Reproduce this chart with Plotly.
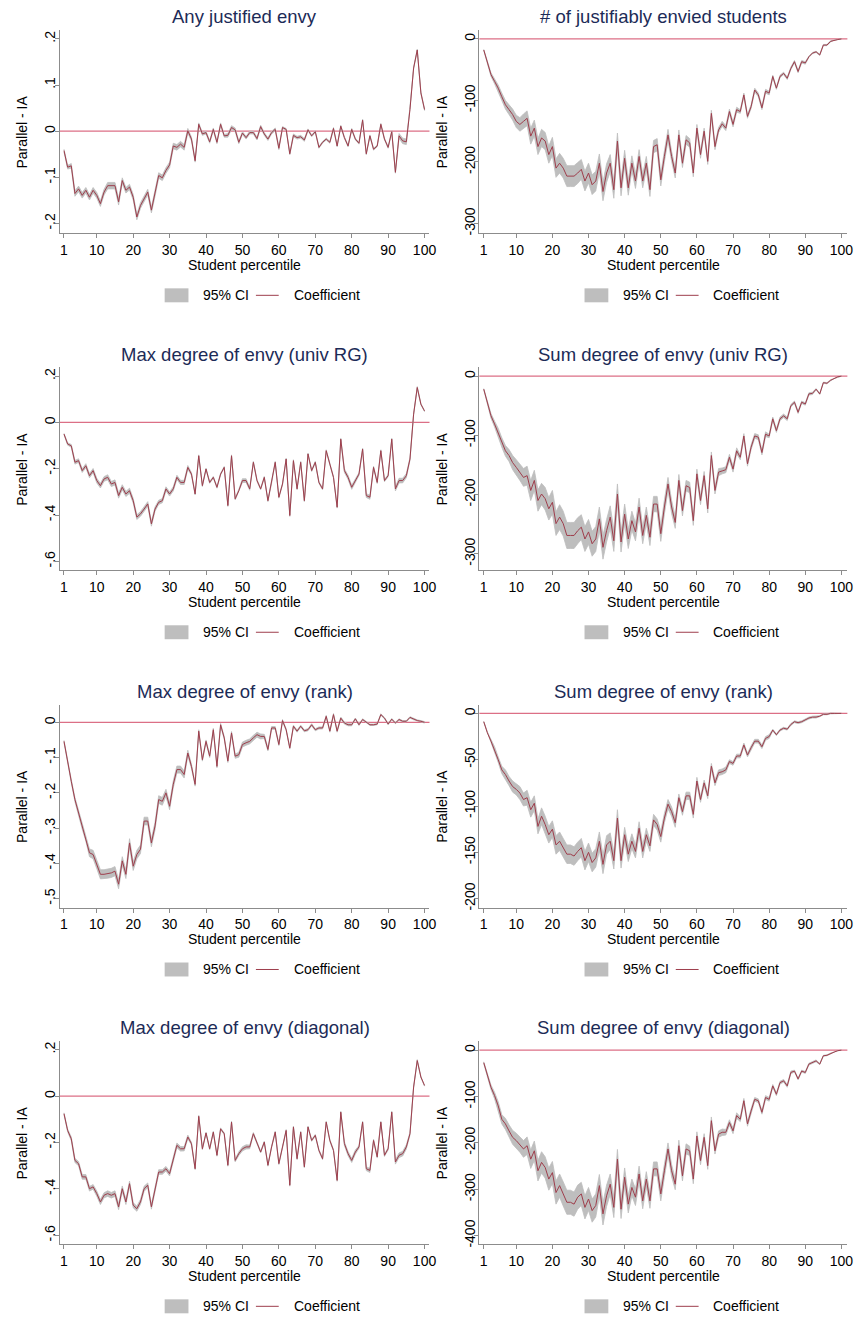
import plotly.graph_objects as go

# ---------------- data ----------------
percentile = list(range(1, 101))
x_tick_vals = [1, 10, 20, 30, 40, 50, 60, 70, 80, 90, 100]
x_tick_text = ["1", "10", "20", "30", "40", "50", "60", "70", "80", "90", "100"]

titles = [
    "Any justified envy",
    "# of justifiably envied students",
    "Max degree of envy (univ RG)",
    "Sum degree of envy (univ RG)",
    "Max degree of envy (rank)",
    "Sum degree of envy (rank)",
    "Max degree of envy (diagonal)",
    "Sum degree of envy (diagonal)",
]
y_axis_title = "Parallel - IA"
x_axis_title = "Student percentile"
legend_ci = "95% CI"
legend_coef = "Coefficient"

y_tick_vals_1 = [-0.2, -0.1, 0, 0.1, 0.2]
y_tick_text_1 = ["-.2", "-.1", "0", ".1", ".2"]
y_tick_vals_2 = [-300, -200, -100, 0]
y_tick_text_2 = ["-300", "-200", "-100", "0"]
y_tick_vals_3 = [-0.6, -0.4, -0.2, 0, 0.2]
y_tick_text_3 = ["-.6", "-.4", "-.2", "0", ".2"]
y_tick_vals_4 = [-300, -200, -100, 0]
y_tick_text_4 = ["-300", "-200", "-100", "0"]
y_tick_vals_5 = [-0.5, -0.4, -0.3, -0.2, -0.1, 0]
y_tick_text_5 = ["-.5", "-.4", "-.3", "-.2", "-.1", "0"]
y_tick_vals_6 = [-200, -150, -100, -50, 0]
y_tick_text_6 = ["-200", "-150", "-100", "-50", "0"]
y_tick_vals_7 = [-0.6, -0.4, -0.2, 0, 0.2]
y_tick_text_7 = ["-.6", "-.4", "-.2", "0", ".2"]
y_tick_vals_8 = [-400, -300, -200, -100, 0]
y_tick_text_8 = ["-400", "-300", "-200", "-100", "0"]

coef_1 = [-0.042, -0.078, -0.075, -0.135, -0.125, -0.139, -0.128, -0.143, -0.128, -0.139,
          -0.157, -0.132, -0.118, -0.118, -0.118, -0.153, -0.107, -0.128, -0.121, -0.143,
          -0.186, -0.161, -0.146, -0.132, -0.171, -0.135, -0.096, -0.101, -0.085, -0.073,
          -0.032, -0.035, -0.028, -0.035, 0.001, -0.017, -0.064, 0.015, -0.006, -0.003,
          -0.023, 0.004, -0.024, 0.015, -0.010, -0.009, 0.008, 0.003, -0.024, -0.004,
          -0.014, -0.003, -0.003, -0.016, 0.010, -0.006, -0.017, -0.003, 0.004, -0.037,
          0.008, 0.004, -0.049, -0.009, -0.014, -0.012, -0.019, 0.003, -0.010, -0.001,
          -0.035, -0.024, -0.017, -0.024, 0.006, -0.032, 0.011, -0.014, -0.032, 0.004,
          -0.017, -0.026, 0.024, -0.049, -0.010, -0.039, -0.032, 0.015, -0.017, -0.035,
          -0.001, -0.089, -0.010, -0.021, -0.023, 0.047, 0.137, 0.176, 0.083, 0.047]
hw_1 = [0.003, 0.004, 0.005, 0.006, 0.006, 0.006, 0.006, 0.006, 0.006, 0.006,
        0.006, 0.006, 0.007, 0.007, 0.007, 0.007, 0.006, 0.006, 0.006, 0.006,
        0.006, 0.006, 0.006, 0.006, 0.006, 0.006, 0.006, 0.006, 0.006, 0.006,
        0.006, 0.006, 0.006, 0.006, 0.005, 0.004, 0.003, 0.003, 0.003, 0.003,
        0.003, 0.003, 0.003, 0.003, 0.003, 0.004, 0.004, 0.004, 0.003, 0.003,
        0.003, 0.003, 0.003, 0.003, 0.003, 0.003, 0.003, 0.003, 0.003, 0.003,
        0.002, 0.002, 0.002, 0.003, 0.003, 0.003, 0.003, 0.002, 0.002, 0.002,
        0.002, 0.002, 0.002, 0.002, 0.002, 0.002, 0.002, 0.002, 0.002, 0.002,
        0.002, 0.002, 0.002, 0.002, 0.002, 0.002, 0.002, 0.002, 0.002, 0.002,
        0.002, 0.002, 0.005, 0.006, 0.006, 0.003, 0.002, 0.002, 0.002, 0.002]

coef_2 = [-18, -39, -58, -69, -80, -94, -107, -115, -123, -134,
          -139, -134, -129, -158, -145, -175, -161, -166, -188, -175,
          -210, -202, -210, -223, -223, -223, -218, -212, -231, -218,
          -237, -231, -202, -248, -218, -202, -245, -166, -242, -194,
          -242, -202, -231, -191, -231, -202, -245, -175, -172, -229,
          -191, -156, -191, -218, -156, -202, -164, -169, -218, -145,
          -188, -150, -199, -121, -175, -148, -138, -145, -118, -139,
          -115, -118, -91, -126, -110, -83, -91, -112, -85, -88,
          -61, -80, -61, -56, -64, -48, -37, -53, -37, -39,
          -29, -23, -21, -26, -10, -10, -4, -2, -1, 0]
hw_2 = [1, 2, 3, 4, 5, 6, 7, 8, 9, 10,
        11, 12, 12, 13, 13, 13, 14, 14, 14, 15,
        15, 16, 16, 17, 17, 17, 17, 16, 16, 16,
        16, 16, 15, 15, 15, 14, 14, 13, 13, 13,
        12, 12, 12, 11, 11, 11, 11, 10, 10, 10,
        9, 9, 8, 8, 8, 7, 7, 7, 6, 6,
        6, 5, 5, 5, 5, 4, 4, 4, 4, 4,
        4, 3, 3, 3, 3, 3, 3, 3, 3, 3,
        2, 2, 2, 2, 2, 2, 2, 2, 2, 2,
        1, 1, 1, 1, 1, 1, 1, 0, 0, 0]

coef_3 = [-0.050, -0.093, -0.101, -0.172, -0.165, -0.208, -0.187, -0.230, -0.208, -0.251,
          -0.273, -0.244, -0.237, -0.266, -0.259, -0.316, -0.280, -0.309, -0.295, -0.338,
          -0.409, -0.395, -0.374, -0.352, -0.438, -0.374, -0.345, -0.338, -0.287, -0.309,
          -0.287, -0.237, -0.259, -0.259, -0.194, -0.223, -0.309, -0.144, -0.273, -0.201,
          -0.259, -0.237, -0.280, -0.223, -0.194, -0.359, -0.144, -0.330, -0.295, -0.251,
          -0.251, -0.287, -0.172, -0.251, -0.287, -0.237, -0.338, -0.259, -0.172, -0.323,
          -0.266, -0.158, -0.402, -0.165, -0.287, -0.172, -0.338, -0.136, -0.208, -0.172,
          -0.259, -0.287, -0.122, -0.180, -0.237, -0.366, -0.072, -0.208, -0.237, -0.280,
          -0.251, -0.223, -0.115, -0.316, -0.323, -0.194, -0.259, -0.122, -0.251, -0.230,
          -0.072, -0.287, -0.251, -0.251, -0.230, -0.158, 0.036, 0.151, 0.079, 0.050]
hw_3 = [0.003, 0.005, 0.006, 0.008, 0.008, 0.008, 0.009, 0.009, 0.009, 0.010,
        0.010, 0.010, 0.011, 0.011, 0.011, 0.011, 0.011, 0.011, 0.011, 0.010,
        0.010, 0.010, 0.010, 0.010, 0.010, 0.009, 0.009, 0.009, 0.009, 0.009,
        0.009, 0.009, 0.009, 0.009, 0.008, 0.006, 0.004, 0.004, 0.004, 0.004,
        0.004, 0.004, 0.004, 0.004, 0.004, 0.004, 0.004, 0.005, 0.006, 0.008,
        0.008, 0.006, 0.004, 0.004, 0.004, 0.004, 0.004, 0.004, 0.004, 0.004,
        0.004, 0.004, 0.004, 0.004, 0.004, 0.004, 0.004, 0.004, 0.004, 0.004,
        0.004, 0.004, 0.004, 0.004, 0.004, 0.004, 0.004, 0.008, 0.009, 0.009,
        0.009, 0.006, 0.004, 0.008, 0.009, 0.005, 0.005, 0.004, 0.005, 0.005,
        0.004, 0.009, 0.010, 0.010, 0.009, 0.006, 0.004, 0.004, 0.003, 0.003]

coef_4 = [-22, -44, -67, -81, -95, -112, -126, -134, -146, -154,
          -162, -171, -168, -193, -176, -210, -199, -207, -224, -213,
          -249, -238, -249, -269, -269, -269, -261, -255, -275, -263,
          -283, -275, -241, -289, -261, -238, -278, -199, -280, -233,
          -275, -244, -263, -221, -269, -235, -272, -216, -216, -266,
          -221, -182, -221, -247, -176, -227, -185, -188, -244, -165,
          -210, -168, -224, -134, -193, -162, -160, -158, -137, -157,
          -126, -137, -101, -148, -120, -101, -103, -129, -98, -101,
          -72, -92, -72, -67, -72, -50, -44, -61, -44, -47,
          -30, -29, -22, -30, -11, -12, -7, -4, -1, 0]
hw_4 = [1, 2, 4, 5, 7, 8, 9, 10, 12, 13,
        14, 15, 16, 17, 17, 18, 18, 19, 19, 20,
        20, 21, 21, 22, 22, 22, 22, 21, 21, 21,
        21, 21, 20, 20, 19, 19, 18, 17, 17, 17,
        16, 16, 15, 15, 14, 14, 14, 13, 13, 13,
        12, 11, 11, 10, 10, 9, 9, 9, 8, 8,
        7, 7, 7, 6, 6, 6, 5, 5, 5, 5,
        5, 4, 4, 4, 4, 4, 4, 4, 4, 3,
        3, 3, 3, 3, 3, 2, 2, 2, 2, 2,
        2, 2, 1, 1, 1, 1, 1, 0, 0, 0]

coef_5 = [-0.054, -0.115, -0.167, -0.219, -0.257, -0.294, -0.327, -0.370, -0.375, -0.403,
          -0.431, -0.431, -0.429, -0.427, -0.422, -0.459, -0.393, -0.431, -0.342, -0.408,
          -0.375, -0.360, -0.280, -0.280, -0.342, -0.294, -0.219, -0.224, -0.200, -0.238,
          -0.176, -0.134, -0.134, -0.148, -0.087, -0.125, -0.176, -0.025, -0.106, -0.054,
          -0.096, -0.021, -0.125, -0.007, -0.044, -0.110, -0.030, -0.096, -0.092, -0.063,
          -0.058, -0.054, -0.044, -0.035, -0.040, -0.040, -0.077, -0.016, -0.016, -0.063,
          0.005, -0.021, -0.073, -0.011, -0.025, -0.011, -0.024, -0.021, -0.007, -0.021,
          -0.016, -0.016, 0.017, -0.025, 0.022, -0.025, 0.012, -0.002, -0.007, -0.007,
          0.010, -0.007, 0.008, 0.001, -0.007, -0.007, -0.005, 0.022, 0.012, -0.005,
          0.009, -0.002, 0.008, 0.003, 0.003, 0.014, 0.009, 0.005, 0.003, 0.000]
hw_5 = [0.003, 0.004, 0.005, 0.006, 0.008, 0.009, 0.010, 0.011, 0.012, 0.012,
        0.013, 0.013, 0.013, 0.013, 0.013, 0.013, 0.012, 0.012, 0.012, 0.012,
        0.012, 0.012, 0.011, 0.011, 0.011, 0.011, 0.011, 0.011, 0.010, 0.010,
        0.010, 0.010, 0.010, 0.010, 0.008, 0.006, 0.005, 0.004, 0.004, 0.004,
        0.004, 0.004, 0.004, 0.004, 0.004, 0.004, 0.004, 0.006, 0.007, 0.007,
        0.007, 0.007, 0.007, 0.007, 0.007, 0.006, 0.004, 0.004, 0.004, 0.003,
        0.003, 0.003, 0.003, 0.003, 0.003, 0.003, 0.003, 0.003, 0.003, 0.003,
        0.003, 0.003, 0.003, 0.003, 0.003, 0.003, 0.003, 0.003, 0.003, 0.003,
        0.002, 0.002, 0.002, 0.002, 0.002, 0.002, 0.002, 0.002, 0.002, 0.002,
        0.002, 0.002, 0.002, 0.002, 0.002, 0.002, 0.002, 0.002, 0.002, 0.002]

coef_6 = [-9, -21, -30, -39, -50, -61, -66, -73, -79, -82,
          -86, -93, -91, -104, -97, -122, -111, -120, -131, -125,
          -142, -138, -145, -152, -152, -154, -149, -145, -159, -150,
          -161, -156, -138, -163, -142, -138, -159, -113, -159, -131,
          -152, -138, -149, -124, -149, -131, -143, -115, -120, -133,
          -113, -98, -106, -118, -91, -106, -89, -89, -109, -73,
          -93, -75, -89, -57, -75, -64, -63, -61, -52, -54,
          -46, -46, -34, -45, -37, -30, -30, -36, -27, -25,
          -18, -23, -18, -16, -17, -12, -9, -10, -9, -7,
          -5, -4, -4, -3, -1, -1, 0, 0, 0, 0]
hw_6 = [0.5, 1, 2, 3, 3, 4, 5, 5, 6, 6,
        7, 7, 8, 8, 8, 8, 9, 9, 9, 9,
        10, 10, 10, 10, 10, 10, 10, 10, 10, 10,
        10, 10, 10, 10, 10, 9, 9, 9, 8, 8,
        8, 8, 7, 7, 7, 7, 6, 6, 6, 6,
        5, 5, 5, 5, 4, 4, 4, 4, 4, 4,
        3, 3, 3, 3, 3, 3, 3, 3, 2, 2,
        2, 2, 2, 2, 2, 2, 2, 2, 2, 2,
        1, 1, 1, 1, 1, 1, 1, 1, 1, 1,
        1, 1, 1, 0.5, 0.5, 0.5, 0.5, 0, 0, 0]

coef_7 = [-0.076, -0.148, -0.184, -0.277, -0.291, -0.348, -0.348, -0.399, -0.391, -0.420,
          -0.456, -0.427, -0.420, -0.427, -0.420, -0.477, -0.399, -0.456, -0.377, -0.470,
          -0.485, -0.456, -0.399, -0.384, -0.477, -0.399, -0.327, -0.327, -0.313, -0.334,
          -0.277, -0.212, -0.227, -0.227, -0.176, -0.205, -0.313, -0.087, -0.227, -0.159,
          -0.227, -0.155, -0.255, -0.141, -0.162, -0.298, -0.112, -0.277, -0.248, -0.227,
          -0.219, -0.219, -0.162, -0.205, -0.241, -0.198, -0.298, -0.219, -0.155, -0.291,
          -0.219, -0.148, -0.384, -0.133, -0.270, -0.155, -0.305, -0.133, -0.191, -0.169,
          -0.234, -0.270, -0.112, -0.191, -0.234, -0.363, -0.069, -0.205, -0.248, -0.277,
          -0.241, -0.219, -0.112, -0.313, -0.320, -0.191, -0.262, -0.112, -0.255, -0.227,
          -0.069, -0.284, -0.255, -0.248, -0.219, -0.162, 0.039, 0.153, 0.082, 0.046]
hw_7 = [0.004, 0.006, 0.008, 0.009, 0.009, 0.010, 0.010, 0.010, 0.010, 0.011,
        0.011, 0.011, 0.012, 0.012, 0.012, 0.012, 0.012, 0.011, 0.011, 0.011,
        0.011, 0.011, 0.011, 0.010, 0.010, 0.010, 0.010, 0.010, 0.010, 0.010,
        0.010, 0.010, 0.010, 0.009, 0.008, 0.006, 0.004, 0.004, 0.004, 0.004,
        0.004, 0.004, 0.004, 0.004, 0.004, 0.004, 0.004, 0.006, 0.008, 0.009,
        0.009, 0.008, 0.005, 0.004, 0.004, 0.004, 0.004, 0.004, 0.004, 0.004,
        0.004, 0.004, 0.004, 0.004, 0.004, 0.004, 0.004, 0.004, 0.004, 0.004,
        0.004, 0.004, 0.004, 0.004, 0.004, 0.004, 0.004, 0.008, 0.009, 0.009,
        0.009, 0.006, 0.004, 0.008, 0.009, 0.005, 0.005, 0.004, 0.005, 0.005,
        0.004, 0.009, 0.010, 0.010, 0.009, 0.006, 0.004, 0.004, 0.003, 0.003]

coef_8 = [-27, -55, -80, -98, -120, -149, -159, -174, -188, -195,
          -203, -213, -206, -235, -217, -260, -242, -253, -278, -264,
          -307, -292, -310, -328, -328, -332, -317, -310, -339, -321,
          -346, -335, -292, -353, -314, -289, -339, -235, -343, -274,
          -332, -296, -317, -267, -325, -278, -325, -256, -256, -310,
          -260, -213, -260, -289, -206, -271, -213, -217, -278, -185,
          -238, -188, -249, -152, -217, -181, -177, -177, -156, -174,
          -141, -149, -109, -159, -131, -106, -109, -134, -102, -106,
          -77, -95, -70, -66, -77, -48, -45, -62, -45, -48,
          -30, -27, -23, -30, -12, -11, -7, -4, -1, 0]
hw_8 = [2, 3, 5, 7, 9, 10, 12, 13, 15, 16,
        17, 18, 19, 20, 21, 22, 23, 23, 24, 24,
        25, 25, 26, 26, 26, 26, 26, 25, 25, 25,
        25, 25, 24, 24, 23, 22, 22, 21, 20, 20,
        19, 18, 18, 17, 17, 16, 16, 15, 15, 15,
        14, 13, 13, 12, 12, 11, 11, 10, 10, 9,
        9, 8, 8, 8, 7, 7, 7, 6, 6, 6,
        6, 5, 5, 5, 5, 4, 4, 4, 4, 4,
        3, 3, 3, 3, 3, 3, 2, 2, 2, 2,
        2, 2, 2, 1, 1, 1, 1, 0, 0, 0]

coefs = [coef_1, coef_2, coef_3, coef_4, coef_5, coef_6, coef_7, coef_8]
hws = [hw_1, hw_2, hw_3, hw_4, hw_5, hw_6, hw_7, hw_8]
y_tick_vals = [y_tick_vals_1, y_tick_vals_2, y_tick_vals_3, y_tick_vals_4,
               y_tick_vals_5, y_tick_vals_6, y_tick_vals_7, y_tick_vals_8]
y_tick_texts = [y_tick_text_1, y_tick_text_2, y_tick_text_3, y_tick_text_4,
                y_tick_text_5, y_tick_text_6, y_tick_text_7, y_tick_text_8]

# ---------------- layout / style ----------------
W, H = 864, 1319
FONT = "Liberation Sans, Arial, Helvetica, sans-serif"
TITLE_COLOR = "#1c2b57"
CI_COLOR = "rgb(190,190,190)"
COEF_COLOR = "#9e3e4c"
ZERO_COLOR = "#dc6f86"
AXIS_COLOR = "#8c8c8c"

cols_px = [(60.0, 433.0), (483.3, 854.3)]
rows_px = [(30.0, 234.0), (368.3, 571.7), (706.3, 909.7), (1043.3, 1247.3)]
x_ranges = [[-0.23, 101.36], [-0.21, 101.65]]
y_ranges = [[-0.2216, 0.2195], [-316.2, 14.6],
            [-0.639, 0.2375], [-328.0, 14.7],
            [-0.5255, 0.050], [-209.7, 9.4],
            [-0.639, 0.2375], [-419.0, 20.0]]


def px(xp):
    return xp / W


def py(yp):
    return 1 - yp / H


fig = go.Figure()
layout = dict(
    width=W, height=H, autosize=False,
    margin=dict(l=0, r=0, t=0, b=0),
    paper_bgcolor="white", plot_bgcolor="white",
    showlegend=False,
    font=dict(family=FONT, size=14, color="black"),
)
annotations = []
shapes = []

for k in range(8):
    r, c = divmod(k, 2)
    n = k + 1
    xs = "x" if n == 1 else f"x{n}"
    ys = "y" if n == 1 else f"y{n}"
    coef = coefs[k]
    hw = hws[k]
    upper = [v + h for v, h in zip(coef, hw)]
    lower = [v - h for v, h in zip(coef, hw)]

    fig.add_trace(go.Scatter(
        x=percentile + percentile[::-1], y=upper + lower[::-1],
        fill="toself", fillcolor=CI_COLOR, mode="lines",
        line=dict(color=CI_COLOR, width=0.8), hoverinfo="skip",
        name=legend_ci, showlegend=False, xaxis=xs, yaxis=ys))
    fig.add_trace(go.Scatter(
        x=percentile, y=coef, mode="lines",
        line=dict(color=COEF_COLOR, width=1),
        name=legend_coef, showlegend=False, xaxis=xs, yaxis=ys))

    x0, x1 = cols_px[c]
    top, bot = rows_px[r]
    xkey = "xaxis" if n == 1 else f"xaxis{n}"
    ykey = "yaxis" if n == 1 else f"yaxis{n}"
    layout[xkey] = dict(
        domain=[px(x0), px(x1)], range=x_ranges[c], anchor=ys,
        showline=True, linecolor=AXIS_COLOR, linewidth=1,
        ticks="outside", ticklen=4, tickcolor=AXIS_COLOR, tickwidth=1,
        tickvals=x_tick_vals, ticktext=x_tick_text,
        tickfont=dict(family=FONT, size=14, color="black"),
        showgrid=False, zeroline=False, fixedrange=True)
    layout[ykey] = dict(
        domain=[py(bot), py(top)], range=y_ranges[k], anchor=xs,
        showline=True, linecolor=AXIS_COLOR, linewidth=1,
        ticks="outside", ticklen=4, tickcolor=AXIS_COLOR, tickwidth=1,
        tickvals=y_tick_vals[k], ticktext=y_tick_texts[k], tickangle=-90,
        ticklabelstandoff=-6,
        tickfont=dict(family=FONT, size=14, color="black"),
        showgrid=False, zeroline=False, fixedrange=True)

    # zero reference line
    shapes.append(dict(type="line", xref=f"{xs} domain", yref=ys,
                       x0=0, x1=1, y0=0, y1=0, layer="below",
                       line=dict(color=ZERO_COLOR, width=1.2)))

    mid_x = (x0 + x1) / 2
    # panel title
    annotations.append(dict(text=titles[k], x=px(mid_x), y=py(top - 13.3),
                            xref="paper", yref="paper", showarrow=False,
                            xanchor="center", yanchor="middle",
                            font=dict(family=FONT, size=18.5, color=TITLE_COLOR)))
    # x-axis title
    annotations.append(dict(text=x_axis_title, x=px(mid_x), y=py(bot + 31.5),
                            xref="paper", yref="paper", showarrow=False,
                            xanchor="center", yanchor="middle",
                            font=dict(family=FONT, size=14, color="black")))
    # y-axis title
    annotations.append(dict(text=y_axis_title, x=px(x0 - 38), y=py((top + bot) / 2),
                            xref="paper", yref="paper", showarrow=False,
                            textangle=-90, xanchor="center", yanchor="middle",
                            font=dict(family=FONT, size=14, color="black")))
    # legend
    ly = bot + 62
    shapes.append(dict(type="rect", xref="paper", yref="paper",
                       x0=px(x0 + 106), x1=px(x0 + 130), y0=py(ly + 7), y1=py(ly - 7),
                       fillcolor=CI_COLOR, line=dict(width=0)))
    shapes.append(dict(type="line", xref="paper", yref="paper",
                       x0=px(x0 + 198), x1=px(x0 + 221), y0=py(ly), y1=py(ly),
                       line=dict(color=COEF_COLOR, width=1)))
    annotations.append(dict(text=legend_ci, x=px(x0 + 143), y=py(ly),
                            xref="paper", yref="paper", showarrow=False,
                            xanchor="left", yanchor="middle",
                            font=dict(family=FONT, size=14, color="black")))
    annotations.append(dict(text=legend_coef, x=px(x0 + 234), y=py(ly),
                            xref="paper", yref="paper", showarrow=False,
                            xanchor="left", yanchor="middle",
                            font=dict(family=FONT, size=14, color="black")))

layout["annotations"] = annotations
layout["shapes"] = shapes
fig.update_layout(**layout)
# remove the browser's default 8px body margin so the figure fills the window
fig.write_html("out.html",
               config={"displayModeBar": False, "staticPlot": True},
               post_script="document.body.style.margin='0px';document.body.style.padding='0px';")
